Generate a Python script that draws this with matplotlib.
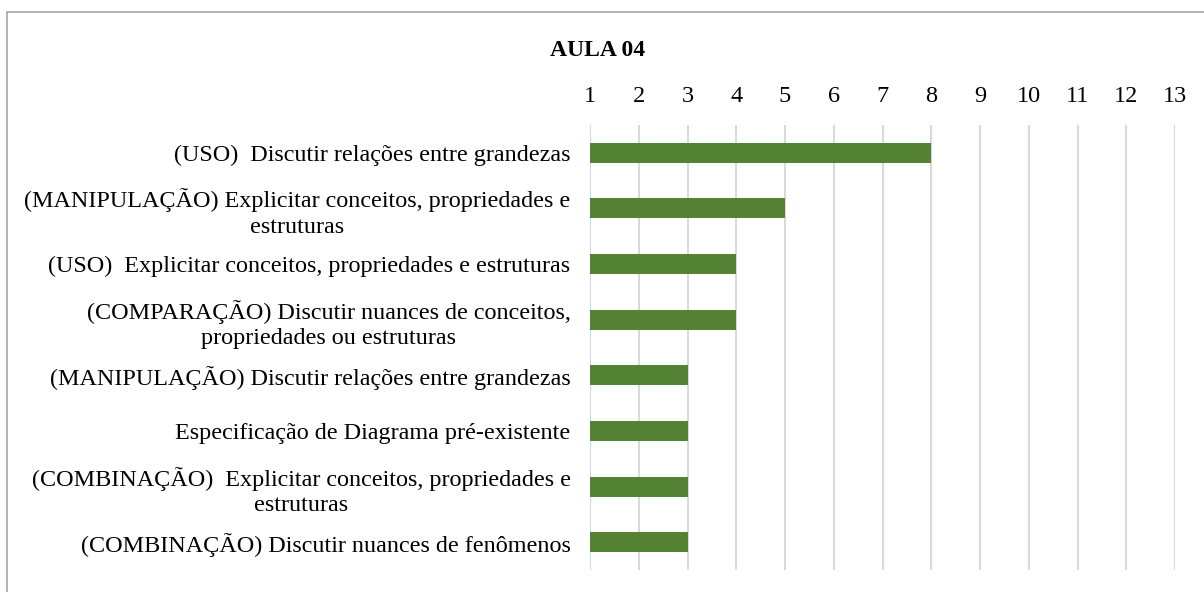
import matplotlib.pyplot as plt
from matplotlib.patches import Rectangle

plt.rcParams['font.family'] = ['Liberation Serif', 'DejaVu Serif']

# Categories from top to bottom and their counts
categories = [
    "(USO)  Discutir relações entre grandezas",
    "(MANIPULAÇÃO) Explicitar conceitos, propriedades e\nestruturas",
    "(USO)  Explicitar conceitos, propriedades e estruturas",
    "(COMPARAÇÃO) Discutir nuances de conceitos,\npropriedades ou estruturas",
    "(MANIPULAÇÃO) Discutir relações entre grandezas",
    "Especificação de Diagrama pré-existente",
    "(COMBINAÇÃO)  Explicitar conceitos, propriedades e\nestruturas",
    "(COMBINAÇÃO) Discutir nuances de fenômenos",
]
counts = [8, 5, 4, 4, 3, 3, 3, 3]
x_ticks = list(range(1, 14))

fig = plt.figure(figsize=(12.04, 5.92), dpi=100)
ax = fig.add_axes([590 / 1204, 22 / 592, 585 / 1204, 445 / 592])

ypos = list(range(len(categories)))
ax.barh(ypos, counts, height=0.36, color='#548235', zorder=3)

ax.set_xlim(1, 13)
ax.set_ylim(len(categories) - 0.5, -0.5)
ax.set_xticks(x_ticks)
ax.xaxis.tick_top()
ax.tick_params(axis='x', length=0, labelsize=17.5, pad=13)
ax.tick_params(axis='y', length=0, labelsize=17.4, pad=14)
ax.set_yticks(ypos)
ax.set_yticklabels(categories)
for lbl in ax.get_yticklabels():
    lbl.set_multialignment('center')
    lbl.set_linespacing(1.3)
ax.grid(axis='x', color='#d9d9d9', linewidth=1.5, zorder=0)
for s in ax.spines.values():
    s.set_visible(False)

fig.text(598 / 1204, 1 - 50 / 592, 'AULA 04', ha='center', va='center',
         fontsize=17, fontweight='bold')

# light frame around the chart area
fig.patches.append(Rectangle((7 / 1204, -0.05), 1.2, 1 - 12 / 592 + 0.05,
                             transform=fig.transFigure, fill=False,
                             edgecolor='#a6a6a6', linewidth=1.2))

fig.savefig('out.png', dpi=100)
